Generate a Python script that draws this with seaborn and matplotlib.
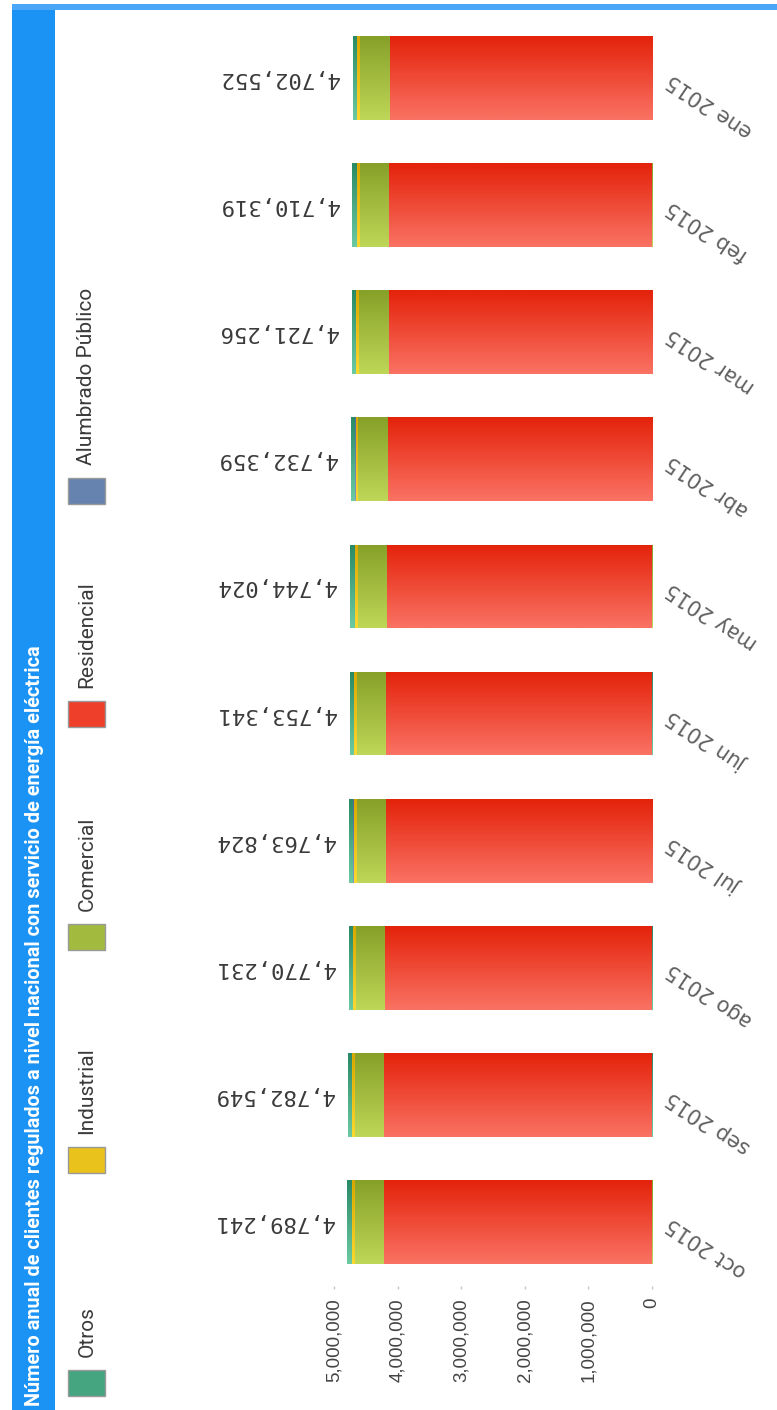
import matplotlib
matplotlib.use('Agg')
import matplotlib.pyplot as plt
from matplotlib.patches import Rectangle
from matplotlib.colors import LinearSegmentedColormap
from matplotlib.ticker import FuncFormatter
import numpy as np
import seaborn as sns

# datos (clientes por mes y sector)
meses = ['ene 2015', 'feb 2015', 'mar 2015', 'abr 2015', 'may 2015',
         'jun 2015', 'jul 2015', 'ago 2015', 'sep 2015', 'oct 2015']
totales = [4702552, 4710319, 4721256, 4732359, 4744024,
           4753341, 4763824, 4770231, 4782549, 4789241]
residencial = [4121452, 4129819, 4141306, 4153009, 4165224,
               4175141, 4186174, 4193181, 4206049, 4213341]
comercial = [466000, 465000, 464000, 463000, 462000,
             461000, 460000, 459000, 458000, 457000]
industrial = [44000, 44200, 44400, 44600, 44800,
              45000, 45200, 45400, 45600, 45800]
alumbrado = [3100, 3100, 3150, 3150, 3200,
             3200, 3250, 3250, 3300, 3300]
otros = [68000, 68200, 68400, 68600, 68800,
         69000, 69200, 69400, 69600, 69800]

series = ['Residencial', 'Comercial', 'Industrial', 'Alumbrado Público', 'Otros']
colores = {
    'Residencial': ('#e4230b', '#fa7263'),
    'Comercial': ('#87a028', '#bed758'),
    'Industrial': ('#d9a800', '#fbd830'),
    'Alumbrado Público': ('#4a6d9e', '#7f9cc4'),
    'Otros': ('#2a8a66', '#6cc9a2'),
}
color_leyenda = {
    'Otros': '#45a580',
    'Industrial': '#eac21c',
    'Comercial': '#a2bb3e',
    'Residencial': '#ee3f2a',
    'Alumbrado Público': '#6583ae',
}
titulo = 'Número anual de clientes regulados a nivel nacional con servicio de energía eléctrica'

W, H = 777, 1410
sns.set_style('white')
plt.rcParams['font.family'] = ['DejaVu Sans']

fig = plt.figure(figsize=(W / 100, H / 100), dpi=100)
ax = fig.add_axes([334 / W, 1 - 1285.5 / H, (652 - 334) / W, (1285.5 - 14.5) / H])

acum = np.cumsum([residencial, comercial, industrial, alumbrado, otros], axis=0)
grad = np.linspace(0, 1, 64).reshape(-1, 1)

# capas apiladas: de la más externa a la más interna
for k, idx in enumerate(range(len(series) - 1, -1, -1)):
    nombre = series[idx]
    c_top, c_bot = colores[nombre]
    n0 = len(ax.patches)
    sns.barplot(x=acum[idx], y=meses, orient='h', color=c_bot, width=0.66,
                saturation=1, errorbar=None, ax=ax)
    cm = LinearSegmentedColormap.from_list(nombre, [c_top, c_bot])
    for p in ax.patches[n0:]:
        bb = p.get_bbox()
        im = ax.imshow(grad, cmap=cm, aspect='auto', origin='upper',
                       extent=(bb.x0, bb.x1, bb.y1, bb.y0), zorder=1.5 + k,
                       interpolation='bilinear')
        im.set_clip_path(p)

ax.set_xlim(5_000_000, 0)
ax.set_ylim(9.5, -0.5)
ax.set_xlabel('')
ax.set_ylabel('')
for s in ax.spines.values():
    s.set_visible(False)

ax.set_xticks(range(0, 5_000_001, 1_000_000))
ax.xaxis.set_major_formatter(FuncFormatter(lambda v, _: f'{v:,.0f}'))
ax.tick_params(axis='x', bottom=True, length=2, width=1, color='#c8c8c8',
               pad=7, labelrotation=90, labelsize=13.5, labelcolor='#444444')
for lbl in ax.get_xticklabels():
    lbl.set_family(['Liberation Sans', 'DejaVu Sans'])

ax.yaxis.tick_right()
ax.tick_params(axis='y', length=0, pad=12, labelsize=15, labelcolor='#606060')
for lbl in ax.get_yticklabels():
    lbl.set_rotation(146)
    lbl.set_rotation_mode('anchor')
    lbl.set_ha('right')
    lbl.set_va('center')

# etiquetas de total
for i, t in enumerate(totales):
    ax.annotate(f'{t:,}', xy=(t, i), xytext=(-14, 0), textcoords='offset pixels',
                rotation=180, rotation_mode='anchor', ha='left', va='center',
                fontsize=16, color='#3a3a3a', family=['DejaVu Sans Mono'])

# marco azul y título
fig.add_artist(Rectangle((12 / W, 0), 43 / W, 1 - 5 / H, transform=fig.transFigure,
                         color='#1a93f5', lw=0))
fig.add_artist(Rectangle((12 / W, 1 - 10 / H), (W - 12) / W, 6 / H,
                         transform=fig.transFigure, color='#4aa6f6', lw=0))
fig.text(35 / W, 1 - 1406 / H, titulo, rotation=90, ha='center', va='bottom',
         color='white', fontsize=14.3, fontweight='bold',
         family=['Roboto', 'DejaVu Sans'])

# leyenda
leyenda = ['Otros', 'Industrial', 'Comercial', 'Residencial', 'Alumbrado Público']
for j, nombre in enumerate(leyenda):
    y_top = 1370 - 223 * j
    fig.add_artist(Rectangle((68 / W, 1 - (y_top + 26) / H), 37 / W, 26 / H,
                             transform=fig.transFigure, facecolor=color_leyenda[nombre],
                             edgecolor='#999999', lw=1))
    fig.text(87 / W, 1 - (y_top - 13) / H, nombre, rotation=90, ha='center',
             va='bottom', color='#3a3a3a', fontsize=15,
             family=['Roboto', 'DejaVu Sans'])

fig.savefig('out.png', dpi=100)
